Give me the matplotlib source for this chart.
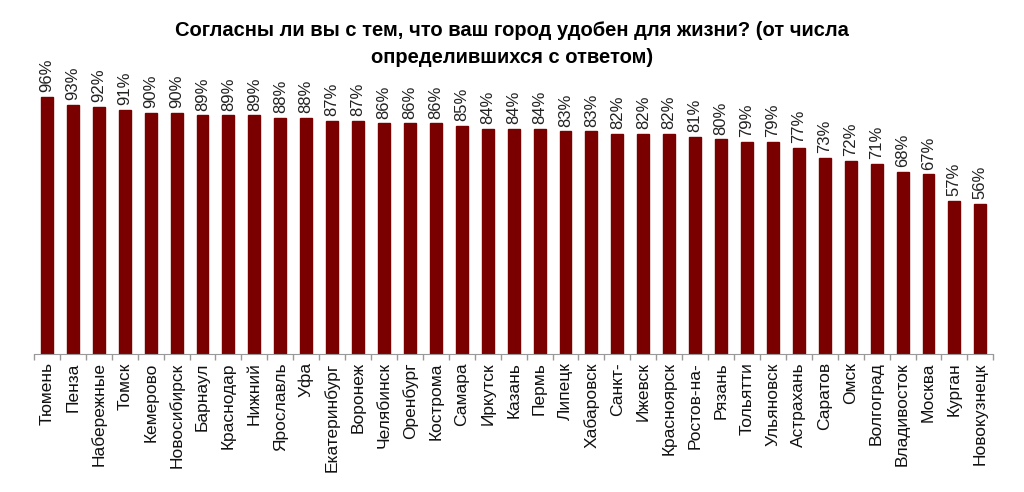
import matplotlib.pyplot as plt
import numpy as np

plt.rcParams["font.family"] = ["Liberation Sans", "DejaVu Sans"]

cities = [
    "Тюмень", "Пенза", "Набережные", "Томск", "Кемерово", "Новосибирск",
    "Барнаул", "Краснодар", "Нижний", "Ярославль", "Уфа", "Екатеринбург",
    "Воронеж", "Челябинск", "Оренбург", "Кострома", "Самара", "Иркутск",
    "Казань", "Пермь", "Липецк", "Хабаровск", "Санкт-", "Ижевск",
    "Красноярск", "Ростов-на-", "Рязань", "Тольятти", "Ульяновск",
    "Астрахань", "Саратов", "Омск", "Волгоград", "Владивосток", "Москва",
    "Курган", "Новокузнецк",
]
values = [96, 93, 92, 91, 90, 90, 89, 89, 89, 88, 88, 87, 87, 86, 86, 86,
          85, 84, 84, 84, 83, 83, 82, 82, 82, 81, 80, 79, 79, 77, 73, 72,
          71, 68, 67, 57, 56]

title = ("Согласны ли вы с тем, что ваш город удобен для жизни? (от числа\n"
         "определившихся с ответом)")

fig = plt.figure(figsize=(10.24, 4.92), dpi=100)
ax = fig.add_axes([0.0332, 0.2805, 0.9368, 0.545])

x = np.arange(len(cities))
ax.bar(x, values, width=0.46, color="#7a0000", edgecolor="#7a0000")

for xi, v in zip(x, values):
    ax.text(xi, v + 1.8, f"{v}%", rotation=90, ha="center", va="bottom",
            fontsize=12, color="#222222")

ax.set_xlim(-0.5, len(cities) - 0.5)
ax.set_ylim(0, 100)
ax.set_yticks([])
ax.set_xticks(x)
ax.set_xticklabels(cities, rotation=90, fontsize=12.5, color="#111111")
ax.tick_params(axis="x", which="major", length=0, pad=6)
ax.set_xticks(np.arange(-0.5, len(cities)), minor=True)
ax.tick_params(axis="x", which="minor", length=4, color="#999999", width=1)

for s in ["top", "right", "left"]:
    ax.spines[s].set_visible(False)
ax.spines["bottom"].set_color("#999999")

fig.suptitle(title, x=0.5, y=0.957, fontsize=14.5, fontweight="bold",
             linespacing=1.55)

fig.savefig("out.png", dpi=100)
